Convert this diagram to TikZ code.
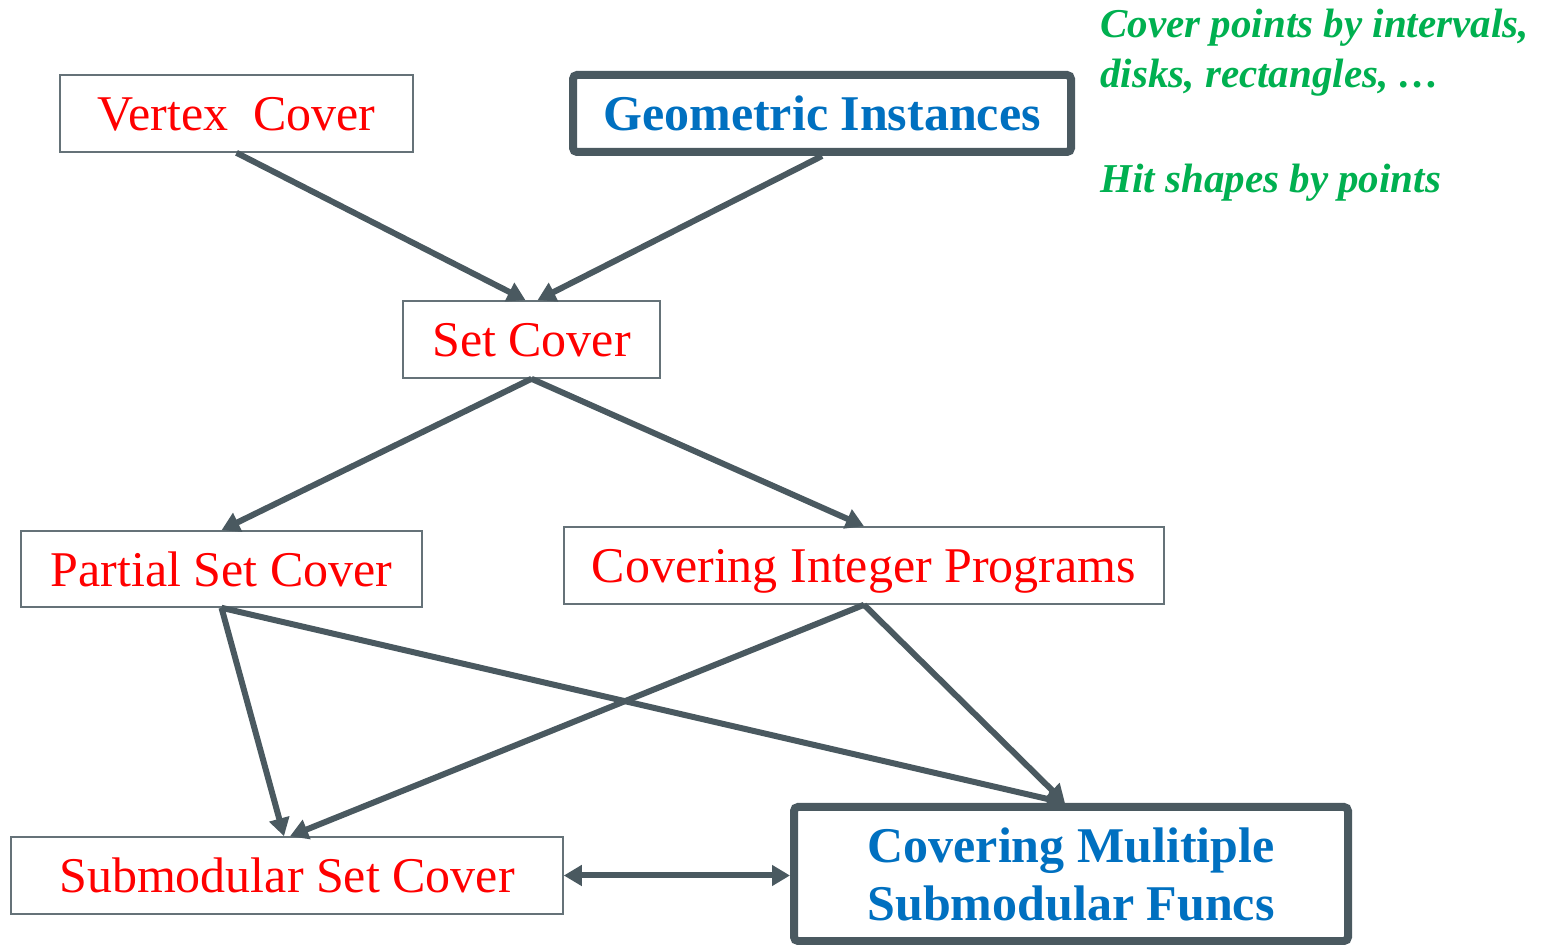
\documentclass[tikz,border=0pt]{standalone}
\usepackage{fontspec}
\setmainfont{Liberation Serif}
\usepackage{tikz}
\usetikzlibrary{arrows.meta, positioning, calc}
\definecolor{problem}{RGB}{255,0,0}
\definecolor{highlight}{RGB}{0,112,192}
\definecolor{note}{RGB}{0,176,80}
\definecolor{edge}{RGB}{74,89,96}
\tikzset{
  probbox/.style={rectangle, draw=edge!85, line width=0.8pt, fill=white, text=problem,
                  inner sep=0pt, text depth=0pt, font=\fontsize{25}{29}\selectfont},
  keybox/.style={rectangle, draw=edge, line width=4pt, rounded corners=2pt, fill=white,
                 text=highlight, inner sep=0pt, align=center,
                 font=\fontsize{25}{29}\selectfont\bfseries},
  link/.style={-{Triangle[length=9pt,width=10pt]}, line width=3pt, edge},
  twoway/.style={{Triangle[length=9pt,width=10pt]}-{Triangle[length=9pt,width=10pt]},
                 line width=3pt, edge},
  notetext/.style={text=note, inner sep=0pt, anchor=base west,
                   font=\fontsize{20.5}{25}\selectfont\bfseries\itshape}
}

\begin{document}
\begin{tikzpicture}[x=0.5pt, y=-0.5pt]
    \useasboundingbox (0,0) rectangle (1548,945);
    % problems
    \node[probbox, minimum width=176.5pt, minimum height=38.5pt] (vc)  at (236.5,113.5) {Vertex~~Cover};
    \node[keybox,  minimum width=249pt,   minimum height=38.5pt] (geo) at (822,113.5) {Geometric Instances};
    \node[probbox, minimum width=128.5pt, minimum height=38.5pt] (sc)  at (531.5,339.5) {Set Cover};
    \node[probbox, minimum width=200.5pt, minimum height=38pt]   (psc) at (221.5,569) {Partial Set Cover};
    \node[probbox, minimum width=300pt,   minimum height=38.5pt] (cip) at (864,565.5) {Covering Integer Programs};
    \node[probbox, minimum width=276pt,   minimum height=38.5pt] (ssc) at (287,875.5) {Submodular Set Cover};
    \node[keybox,  minimum width=277pt,   minimum height=67pt]   (cmsf) at (1071,874)
      {Covering Mulitiple\\Submodular Funcs};
    % notes
    \node[notetext] (note1) at (1100,38) {Cover points by intervals,};
    \node[notetext] (note2) at (1100,88) {disks, rectangles, …};
    \node[notetext] (note3) at (1100,193) {Hit shapes by points};
    % reductions
    \draw[link] (vc.south)  -- ($(sc.north)+(-6,0)$);
    \draw[link] (geo.south) -- ($(sc.north)+(6,0)$);
    \draw[link] (sc.south)  -- (psc.north);
    \draw[link] (sc.south)  -- (cip.north);
    \draw[link] (psc.south) -- ($(ssc.north)+(-3,0)$);
    \draw[link] (psc.south) -- ($(cmsf.north)+(-6,0)$);
    \draw[link] (cip.south) -- ($(ssc.north)+(3,0)$);
    \draw[link] (cip.south) -- ($(cmsf.north)+(-6,0)$);
    \draw[twoway] (ssc.east) -- (ssc.east -| cmsf.west);
\end{tikzpicture}
\end{document}
